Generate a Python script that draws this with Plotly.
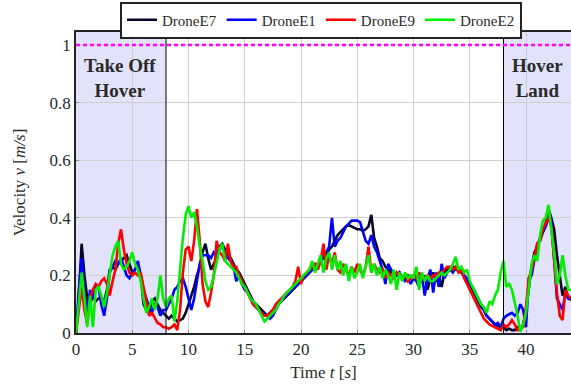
import plotly.graph_objects as go

# Sample times (s), 0.25 s step from 0 to 44
time_s = [i * 0.25 for i in range(177)]

drone_e7 = [
    0.00, 0.12, 0.31, 0.20,
    0.12, 0.10, 0.13, 0.11,
    0.12, 0.12, 0.11, 0.15,
    0.22, 0.23, 0.22, 0.24,
    0.25, 0.26, 0.27, 0.24,
    0.21, 0.22, 0.24, 0.20,
    0.10, 0.08, 0.07, 0.11,
    0.12, 0.10, 0.08, 0.07,
    0.06, 0.05, 0.06, 0.05,
    0.04, 0.045, 0.05, 0.07,
    0.10, 0.13, 0.16, 0.20,
    0.23, 0.28, 0.31, 0.26,
    0.22, 0.24, 0.26, 0.30,
    0.31, 0.29, 0.27, 0.26,
    0.24, 0.22, 0.21, 0.19,
    0.17, 0.15, 0.13, 0.11,
    0.10, 0.09, 0.08, 0.07,
    0.06, 0.07, 0.08, 0.09,
    0.10, 0.11, 0.12, 0.13,
    0.14, 0.15, 0.16, 0.17,
    0.18, 0.19, 0.20, 0.21,
    0.22, 0.23, 0.24, 0.25,
    0.26, 0.27, 0.29, 0.30,
    0.32, 0.34, 0.35, 0.36,
    0.37, 0.375, 0.37, 0.365,
    0.36, 0.36, 0.355, 0.36,
    0.37, 0.41, 0.33, 0.30,
    0.26, 0.25, 0.23, 0.22,
    0.21, 0.21, 0.20, 0.21,
    0.19, 0.19, 0.20, 0.19,
    0.195, 0.20, 0.19, 0.18,
    0.20, 0.15, 0.19, 0.21,
    0.18, 0.20, 0.16, 0.21,
    0.22, 0.22, 0.23, 0.22,
    0.22, 0.21, 0.20, 0.18,
    0.17, 0.15, 0.13, 0.11,
    0.09, 0.08, 0.06, 0.05,
    0.04, 0.03, 0.025, 0.02,
    0.02, 0.01, 0.015, 0.01,
    0.01, 0.02, 0.01, 0.03,
    0.08, 0.16, 0.23, 0.28,
    0.30, 0.33, 0.35, 0.38,
    0.43, 0.40, 0.36, 0.27,
    0.20, 0.13, 0.16, 0.12,
    0.115,
]

drone_e1 = [
    0.00, 0.15, 0.26, 0.14,
    0.07, 0.15, 0.12, 0.17,
    0.16, 0.10, 0.06, 0.12,
    0.21, 0.23, 0.25, 0.24,
    0.26, 0.23, 0.20, 0.19,
    0.21, 0.22, 0.25, 0.20,
    0.15, 0.12, 0.09, 0.07,
    0.10, 0.09, 0.06, 0.08,
    0.08, 0.10, 0.12, 0.15,
    0.16, 0.18, 0.19, 0.16,
    0.12, 0.08, 0.12, 0.18,
    0.24, 0.27, 0.27, 0.27,
    0.26, 0.28, 0.27, 0.29,
    0.30, 0.28, 0.26, 0.25,
    0.23, 0.18, 0.20, 0.17,
    0.15, 0.14, 0.12, 0.10,
    0.09, 0.08, 0.07, 0.065,
    0.06, 0.05, 0.06, 0.08,
    0.10, 0.11, 0.12, 0.13,
    0.14, 0.15, 0.16, 0.17,
    0.18, 0.19, 0.20, 0.21,
    0.22, 0.23, 0.24, 0.25,
    0.27, 0.28, 0.30, 0.40,
    0.30, 0.32, 0.33, 0.35,
    0.37, 0.38, 0.39, 0.39,
    0.39, 0.385, 0.35, 0.32,
    0.31, 0.34, 0.30, 0.28,
    0.25, 0.22, 0.17, 0.24,
    0.22, 0.21, 0.20, 0.21,
    0.19, 0.18, 0.19, 0.17,
    0.19, 0.18, 0.16, 0.20,
    0.13, 0.19, 0.22, 0.14,
    0.21, 0.16, 0.24, 0.19,
    0.21, 0.22, 0.21, 0.23,
    0.22, 0.21, 0.20, 0.19,
    0.17, 0.16, 0.14, 0.12,
    0.10, 0.08, 0.06, 0.05,
    0.04, 0.03, 0.035, 0.02,
    0.05, 0.06, 0.065, 0.07,
    0.06, 0.07, 0.10, 0.08,
    0.02, 0.19, 0.20, 0.25,
    0.31, 0.32, 0.35, 0.37,
    0.40, 0.39, 0.27, 0.12,
    0.10, 0.08, 0.14, 0.12,
    0.12,
]

drone_e9 = [
    0.00, 0.08, 0.16, 0.08,
    0.03, 0.12, 0.15, 0.17,
    0.16, 0.18, 0.19, 0.17,
    0.13, 0.18, 0.22, 0.31,
    0.36, 0.29, 0.24, 0.21,
    0.20, 0.21, 0.20, 0.21,
    0.16, 0.11, 0.06, 0.07,
    0.05, 0.035, 0.03, 0.02,
    0.02, 0.015, 0.02, 0.03,
    0.01, 0.08, 0.21, 0.29,
    0.30, 0.25, 0.32, 0.43,
    0.32, 0.17, 0.11, 0.09,
    0.14, 0.20, 0.32, 0.28,
    0.27, 0.25, 0.31, 0.25,
    0.23, 0.23, 0.20, 0.18,
    0.16, 0.14, 0.12, 0.10,
    0.09, 0.08, 0.07, 0.06,
    0.06, 0.07, 0.08, 0.10,
    0.11, 0.12, 0.13, 0.14,
    0.15, 0.16, 0.18, 0.23,
    0.17, 0.20, 0.21, 0.22,
    0.23, 0.24, 0.22, 0.25,
    0.31, 0.22, 0.27, 0.24,
    0.28, 0.22, 0.21, 0.24,
    0.22, 0.20, 0.23, 0.21,
    0.24, 0.22, 0.20, 0.23,
    0.30, 0.21, 0.24, 0.22,
    0.21, 0.22, 0.19, 0.21,
    0.20, 0.19, 0.21, 0.20,
    0.19, 0.20, 0.18, 0.19,
    0.20, 0.19, 0.21, 0.19,
    0.19, 0.20, 0.19, 0.20,
    0.20, 0.21, 0.21, 0.22,
    0.23, 0.23, 0.22, 0.23,
    0.21, 0.22, 0.19, 0.17,
    0.15, 0.13, 0.11, 0.09,
    0.07, 0.05, 0.04, 0.03,
    0.025, 0.02, 0.015, 0.01,
    0.03, 0.02, 0.03, 0.045,
    0.03, 0.01, 0.015, 0.02,
    0.09, 0.19, 0.22, 0.27,
    0.31, 0.32, 0.36, 0.38,
    0.40, 0.37, 0.24, 0.14,
    0.06, 0.045, 0.15, 0.13,
    0.12,
]

drone_e2 = [
    0.00, 0.10, 0.21, 0.12,
    0.02, 0.13, 0.02, 0.15,
    0.16, 0.13, 0.09, 0.14,
    0.21, 0.27, 0.30, 0.32,
    0.24, 0.22, 0.23, 0.25,
    0.28, 0.24, 0.22, 0.18,
    0.12, 0.07, 0.09, 0.12,
    0.08, 0.12, 0.20, 0.12,
    0.09, 0.12, 0.13, 0.04,
    0.11, 0.22, 0.33, 0.41,
    0.44, 0.40, 0.42, 0.37,
    0.30, 0.25, 0.18, 0.15,
    0.16, 0.20, 0.25, 0.29,
    0.31, 0.25, 0.24, 0.23,
    0.22, 0.21, 0.19, 0.17,
    0.16, 0.14, 0.12, 0.11,
    0.10, 0.08, 0.06, 0.04,
    0.05, 0.06, 0.07, 0.08,
    0.10, 0.11, 0.13, 0.14,
    0.15, 0.16, 0.17, 0.18,
    0.19, 0.20, 0.21, 0.22,
    0.25, 0.21, 0.24, 0.27,
    0.21, 0.26, 0.28, 0.22,
    0.27, 0.22, 0.25, 0.20,
    0.24, 0.18, 0.23, 0.19,
    0.21, 0.24, 0.19, 0.23,
    0.27, 0.21, 0.24, 0.20,
    0.23, 0.19, 0.22, 0.20,
    0.17, 0.22, 0.15, 0.21,
    0.18, 0.21, 0.19, 0.20,
    0.19, 0.23, 0.15, 0.21,
    0.18, 0.20, 0.18, 0.18,
    0.19, 0.20, 0.21, 0.20,
    0.21, 0.22, 0.24, 0.265,
    0.22, 0.23, 0.21, 0.22,
    0.18, 0.16, 0.14, 0.12,
    0.10, 0.09, 0.07, 0.11,
    0.10, 0.13, 0.15, 0.21,
    0.25, 0.16, 0.17, 0.15,
    0.11, 0.06, 0.005, 0.03,
    0.07, 0.15, 0.24, 0.27,
    0.25, 0.34, 0.39, 0.40,
    0.445, 0.36, 0.28, 0.17,
    0.20, 0.27, 0.20, 0.15,
    0.15,
]

series_names = ["DroneE7", "DroneE1", "DroneE9", "DroneE2"]
series_values = [drone_e7, drone_e1, drone_e9, drone_e2]
series_colors = ["#05052a", "#0000ff", "#ff0000", "#00ee00"]

reference_speed = 1.0
phase_bounds = [(0, 8), (38, 44)]
phase_labels = ["Take Off<br>Hover", "Hover<br>Land"]
phase_label_x = [3.9, 41.0]

x_ticks = [0, 5, 10, 15, 20, 25, 30, 35, 40]
y_ticks = [0, 0.2, 0.4, 0.6, 0.8, 1]
y_tick_text = ["0", "0.2", "0.4", "0.6", "0.8", "1"]

FONT = "'Liberation Serif', 'DejaVu Serif', serif"
TEXT = "#2a2a2a"
X_MAX = 44
Y_MAX = 1.045

fig = go.Figure()

for name, vals, col in zip(series_names, series_values, series_colors):
    fig.add_trace(go.Scatter(
        x=time_s, y=vals, mode="lines", name=name,
        line=dict(color=col, width=2.6),
    ))

# Shaded flight phases with their boundary lines
for (a, b) in phase_bounds:
    fig.add_shape(type="rect", xref="x", yref="y", x0=a, x1=b, y0=0, y1=Y_MAX,
                  fillcolor="rgb(226,226,250)", line=dict(width=0), layer="below")
fig.add_shape(type="line", xref="x", yref="y", x0=8, x1=8, y0=0, y1=Y_MAX,
              line=dict(color="black", width=1))
fig.add_shape(type="line", xref="x", yref="y", x0=38, x1=38, y0=0, y1=Y_MAX,
              line=dict(color="black", width=1))

# Reference velocity
fig.add_shape(type="line", xref="x", yref="y", x0=0, x1=X_MAX,
              y0=reference_speed, y1=reference_speed,
              line=dict(color="#ff00ff", width=2.5, dash="4px,3px"))

for txt, xp in zip(phase_labels, phase_label_x):
    fig.add_annotation(x=xp, y=0.885, xref="x", yref="y", text="<b>" + txt + "</b>",
                       showarrow=False, font=dict(family=FONT, size=19, color=TEXT))

fig.update_layout(
    width=571, height=385,
    margin=dict(l=76, r=0, t=32, b=52, autoexpand=False),
    paper_bgcolor="white", plot_bgcolor="white",
    font=dict(family=FONT, size=16, color=TEXT),
    showlegend=True,
    legend=dict(
        orientation="h", x=0.495, xanchor="center",
        yref="container", y=0.996, yanchor="top",
        bordercolor="#222", borderwidth=2, bgcolor="white",
        font=dict(family=FONT, size=15, color=TEXT),
        itemwidth=30, tracegroupgap=0,
    ),
    xaxis=dict(
        range=[0, X_MAX], tickvals=x_ticks, showgrid=True, gridcolor="#cfcfcf",
        gridwidth=1, showline=True, linecolor="#222", linewidth=1.5, mirror=True,
        ticks="inside", ticklen=3, tickcolor="#888", zeroline=False,
        title=dict(text="Time <i>t</i> [<i>s</i>]", standoff=8, font=dict(size=17)),
        tickfont=dict(size=17),
    ),
    yaxis=dict(
        range=[0, Y_MAX], tickvals=y_ticks, ticktext=y_tick_text, showgrid=True,
        gridcolor="#cfcfcf", gridwidth=1, showline=True, linecolor="#222",
        linewidth=1.5, mirror=True, ticks="inside", ticklen=3, tickcolor="#888",
        zeroline=False,
        title=dict(text="Velocity <i>v</i> [<i>m/s</i>]", standoff=20, font=dict(size=17)),
        tickfont=dict(size=17),
    ),
)

fig.write_html("out.html")
